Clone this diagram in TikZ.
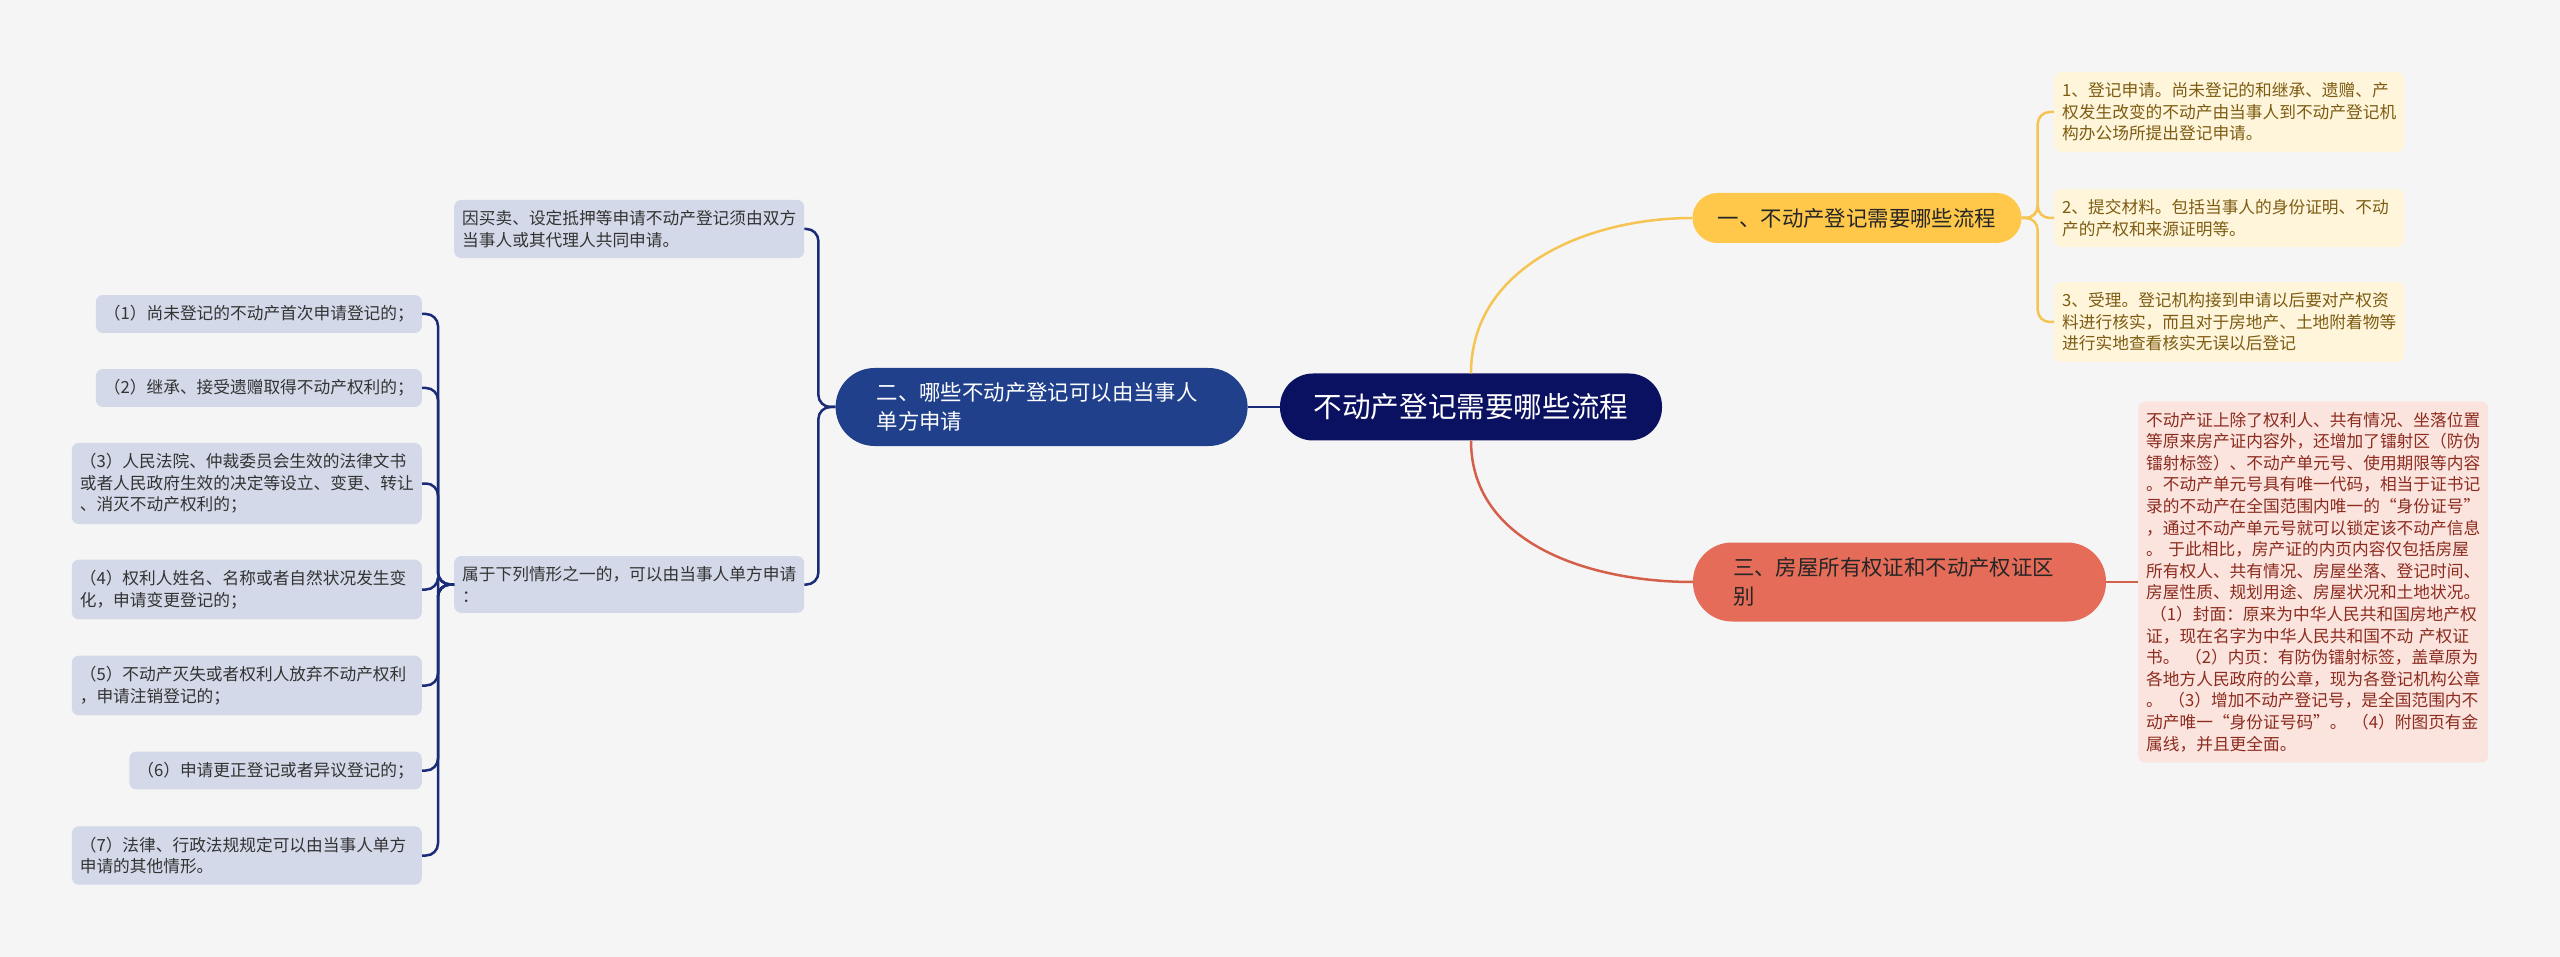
\documentclass[tikz,border=0pt]{standalone}
\usepackage{fontspec}
\setmainfont{Noto Sans CJK SC}
\usetikzlibrary{positioning}
\definecolor{cBg}{HTML}{F5F5F5}
\definecolor{cRoot}{HTML}{0B1161}
\definecolor{cBlue}{HTML}{21408B}
\definecolor{cBlueLine}{HTML}{1A2C78}
\definecolor{cBlueLeaf}{HTML}{D3D9E8}
\definecolor{cYellow}{HTML}{FFC84B}
\definecolor{cYellowLine}{HTML}{F6C452}
\definecolor{cYellowLeaf}{HTML}{FFF5DB}
\definecolor{cYellowText}{HTML}{7D5C12}
\definecolor{cRed}{HTML}{E46C58}
\definecolor{cRedLine}{HTML}{D4604C}
\definecolor{cRedLeaf}{HTML}{FBE3DE}
\definecolor{cRedText}{HTML}{8C2C1E}
\newcommand{\leaffont}{\fontsize{16.7}{21.6}\selectfont}
\newcommand{\branchfont}{\fontsize{21.4}{28.5}\selectfont}

\begin{document}
\begin{tikzpicture}[x=1pt, y=-1pt,
  rootbox/.style={fill=cRoot, text=white, rounded corners=33pt, minimum width=382pt, minimum height=67pt, font=\fontsize{28.6}{34}\selectfont},
  branch/.style={font=\branchfont, align=left},
  leaf/.style={rounded corners=7pt, inner xsep=8pt, inner ysep=10.5pt, font=\leaffont, align=left},
  wide/.style={text width=334pt},
  bleaf/.style={leaf, fill=cBlueLeaf, text=black!80},
  yleaf/.style={leaf, wide, fill=cYellowLeaf, text=cYellowText},
  rleaf/.style={leaf, wide, fill=cRedLeaf, text=cRedText},
  link/.style={line width=2.5pt, rounded corners=12pt},
  blink/.style={link, draw=cBlueLine},
  ylink/.style={link, draw=cYellowLine},
  rlink/.style={link, draw=cRedLine}
]
\fill[cBg] (0,0) rectangle (2560,957);

% centre and main branches
\node[rootbox] (root) at (1471,407) {不动产登记需要哪些流程};
\node[branch, fill=cYellow, text=black!85, rounded corners=25pt, minimum width=329pt, minimum height=50pt] (one) at (1857,218) {一、不动产登记需要哪些流程};
\node[branch, fill=cBlue, text=white, rounded corners=39pt, text width=330pt, inner xsep=41pt, minimum height=78pt, left=32pt of root] (two) {二、哪些不动产登记可以由当事人\\单方申请};
\node[branch, fill=cRed, text=black!85, rounded corners=39pt, text width=333pt, inner xsep=40pt, minimum height=79pt] (three) at (1899.5,582) {三、房屋所有权证和不动产权证区\\别};

% branch one
\node[yleaf, anchor=west] (s1) at (2054,112) {1、登记申请。尚未登记的和继承、遗赠、产\\权发生改变的不动产由当事人到不动产登记机\\构办公场所提出登记申请。};
\node[yleaf, anchor=west] (s2) at (2054,218) {2、提交材料。包括当事人的身份证明、不动\\产的产权和来源证明等。};
\node[yleaf, anchor=west] (s3) at (2054,322) {3、受理。登记机构接到申请以后要对产权资\\料进行核实，而且对于房地产、土地附着物等\\进行实地查看核实无误以后登记};

% branch two
\node[bleaf, wide, anchor=west] (both) at (454,229) {因买卖、设定抵押等申请不动产登记须由双方\\当事人或其代理人共同申请。};
\node[bleaf, wide, anchor=west] (uni) at (454,584.5) {属于下列情形之一的，可以由当事人单方申请\\：};
\node[bleaf, anchor=east] (c1) at (422,314) {（1）尚未登记的不动产首次申请登记的；};
\node[bleaf, anchor=east] (c2) at (422,388) {（2）继承、接受遗赠取得不动产权利的；};
\node[bleaf, wide, anchor=east] (c3) at (422,483.5) {（3）人民法院、仲裁委员会生效的法律文书\\或者人民政府生效的决定等设立、变更、转让\\、消灭不动产权利的；};
\node[bleaf, wide, anchor=east] (c4) at (422,589.5) {（4）权利人姓名、名称或者自然状况发生变\\化，申请变更登记的；};
\node[bleaf, wide, anchor=east] (c5) at (422,685.5) {（5）不动产灭失或者权利人放弃不动产权利\\，申请注销登记的；};
\node[bleaf, anchor=east] (c6) at (422,770.5) {（6）申请更正登记或者异议登记的；};
\node[bleaf, wide, anchor=east] (c7) at (422,855.5) {（7）法律、行政法规规定可以由当事人单方\\申请的其他情形。};

% branch three
\node[rleaf, anchor=west] (cert) at (2138,582) {不动产证上除了权利人、共有情况、坐落位置\\等原来房产证内容外，还增加了镭射区（防伪\\镭射标签）、不动产单元号、使用期限等内容\\。不动产单元号具有唯一代码，相当于证书记\\录的不动产在全国范围内唯一的“身份证号”\\，通过不动产单元号就可以锁定该不动产信息\\。~于此相比，房产证的内页内容仅包括房屋\\所有权人、共有情况、房屋坐落、登记时间、\\房屋性质、规划用途、房屋状况和土地状况。\\\hspace*{4pt}（1）封面：原来为中华人民共和国房地产权\\证，现在名字为中华人民共和国不动~产权证\\书。~（2）内页：有防伪镭射标签，盖章原为\\各地方人民政府的公章，现为各登记机构公章\\。~（3）增加不动产登记号，是全国范围内不\\动产唯一“身份证号码”。~（4）附图页有金\\属线，并且更全面。};

% connectors
\draw[ylink] (root.north) to[out=90, in=180] (one.west);
\draw[rlink] (root.south) to[out=-90, in=180] (three.west);
\draw[blink] (root.west) -- (two.east);
\foreach \s in {s1,s2,s3}
  \draw[ylink] (one.east) -- ++(16,0) |- (\s.west);
\draw[rlink] (three.east) -- (cert.west);
\foreach \s in {both,uni}
  \draw[blink] (two.west) -- ++(-17,0) |- (\s.east);
\foreach \c in {c1,c2,c3,c4,c5,c6,c7}
  \draw[blink] (uni.west) -- ++(-16,0) |- (\c.east);
\end{tikzpicture}
\end{document}
